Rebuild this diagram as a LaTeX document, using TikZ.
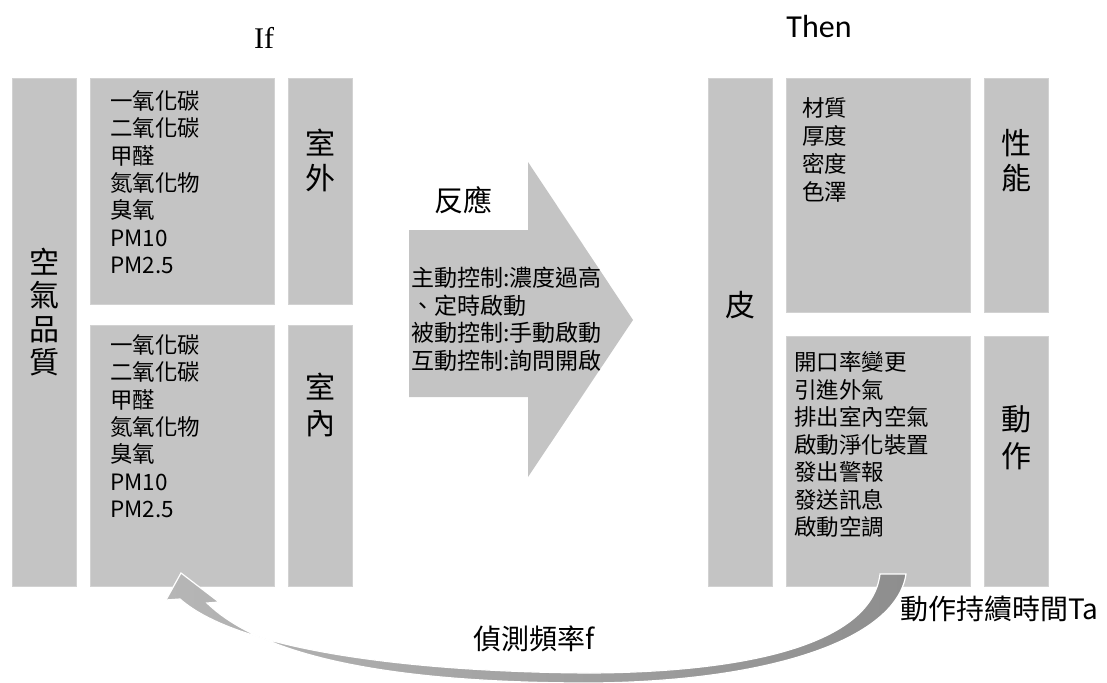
\documentclass[tikz,border=0pt]{standalone}
\usepackage{fontspec}
\setmainfont{Noto Sans CJK TC}
\newfontfamily\iffont{Liberation Serif}
\newfontfamily\thenfont{Carlito}
\definecolor{boxgray}{HTML}{C4C4C4}
\definecolor{boxedge}{HTML}{D2D2D2}
\definecolor{arrL}{HTML}{B6B6B6}
\definecolor{arrM}{HTML}{F4F4F4}
\definecolor{arrR}{HTML}{8E8E8E}
\newcommand\stackL[2]{\vtop{\baselineskip=#1pt\lineskiplimit=-\maxdimen\lineskip=0pt\halign{##\hfil\cr#2\crcr}}}
\newcommand\stackC[2]{\vtop{\baselineskip=#1pt\lineskiplimit=-\maxdimen\lineskip=0pt\halign{\hfil##\hfil\cr#2\crcr}}}
\newcommand\fs[1]{\fontsize{#1pt}{#1pt}\selectfont}
\begin{document}
\begin{tikzpicture}[x=1pt,y=-1pt,
  box/.style 2 args={fill=boxgray,draw=boxedge,line width=0.8pt,inner sep=0pt,minimum width=#1pt,minimum height=#2pt},
  ltxt/.style={inner sep=0pt,anchor=base west,text=black},
  ctxt/.style={inner sep=0pt,anchor=base,text=black}]
\useasboundingbox (0,0) rectangle (1107,682);
% titles
\node[ctxt] (if) at (264,49) {\iffont\fs{30}If};
\node[ctxt] (then) at (819,38) {\thenfont\fs{32}Then};
% left side boxes
\node[box={64}{508}] (aq) at (44,332) {};
\node[box={184}{226}] (outlist) at (182,191) {};
\node[box={64}{226}] (outlbl) at (320,191) {};
\node[box={184}{261}] (inlist) at (182,455.5) {};
\node[box={64}{261}] (inlbl) at (320,455.5) {};
% right side boxes
\node[box={64}{508}] (skin) at (740,332) {};
\node[box={184}{234}] (perflist) at (878,195) {};
\node[box={64}{234}] (perflbl) at (1016,195) {};
\node[box={184}{250}] (actlist) at (878,461) {};
\node[box={64}{250}] (actlbl) at (1016,461) {};
% labels
\node[ctxt] (aqt) at (44,273) {\fs{30}\stackC{33.5}{空\cr 氣\cr 品\cr 質}};
\node[ctxt] (outt) at (320,154) {\fs{30}\stackC{35}{室\cr 外}};
\node[ctxt] (int) at (320,398) {\fs{30}\stackC{36}{室\cr 內}};
\node[ctxt] (skint) at (740,316) {\fs{30}皮};
\node[ctxt] (perft) at (1016,154) {\fs{30}\stackC{35}{性\cr 能}};
\node[ctxt] (actt) at (1016,430) {\fs{30}\stackC{37}{動\cr 作}};
% lists
\node[ltxt] (outitems) at (110,109.5) {\fs{22.5}\stackL{27.3}{一氧化碳\cr 二氧化碳\cr 甲醛\cr 氮氧化物\cr 臭氧\cr PM10\cr PM2.5}};
\node[ltxt] (initems) at (110,353.5) {\fs{22.5}\stackL{27.3}{一氧化碳\cr 二氧化碳\cr 甲醛\cr 氮氧化物\cr 臭氧\cr PM10\cr PM2.5}};
\node[ltxt] (perfitems) at (802,116.5) {\fs{22.5}\stackL{28}{材質\cr 厚度\cr 密度\cr 色澤}};
\node[ltxt] (actitems) at (794,370.5) {\fs{22.5}\stackL{27.5}{開口率變更\cr 引進外氣\cr 排出室內空氣\cr 啟動淨化裝置\cr 發出警報\cr 發送訊息\cr 啟動空調}};
% big arrow
\fill[boxgray] (409,230) -- (528,230) -- (528,162) -- (633,320) -- (528,477) -- (528,397) -- (409,397) -- cycle;
\node[ctxt] (resp) at (463,211) {\fs{29}反應};
\node[ltxt] (ctl) at (411,286.5) {\fs{23}\stackL{27.7}{主動控制:濃度過高\cr 、定時啟動\cr 被動控制:手動啟動\cr 互動控制:詢問開啟}};
% curved feedback arrow
\shade[left color=arrL, middle color=arrM, right color=arrR, draw=white, line width=1.2pt]
  (181,573) -- (166,600) -- (180,599)
  .. controls (240,652) and (420,672) .. (590,673)
  .. controls (760,672) and (872,640) .. (880,574)
  -- (906,574)
  .. controls (896,642) and (762,682) .. (590,683)
  .. controls (420,683) and (270,664) .. (207,603)
  -- (219,602) -- cycle;
\node[ctxt] (freq) at (534,649) {\fs{28}偵測頻率f};
\node[ltxt] (dur) at (900,619) {\fs{28}動作持續時間Ta};
\end{tikzpicture}
\end{document}
